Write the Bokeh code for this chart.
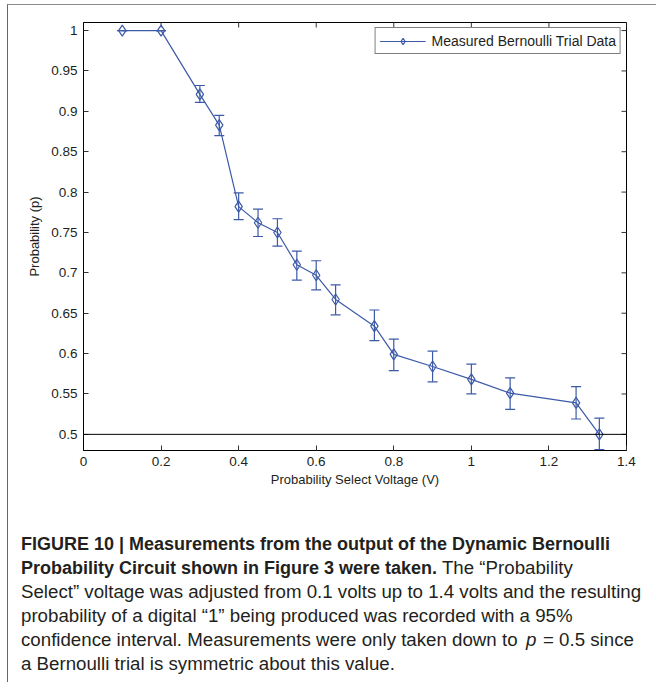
from bokeh.plotting import figure
from bokeh.layouts import column
from bokeh.models import (ColumnDataSource, Whisker, TeeHead, Span, Legend, LegendItem,
                          FixedTicker, Range1d, Div)
from bokeh.embed import file_html
from bokeh.resources import INLINE
import math

# ---------------- data ----------------
voltage = [0.1, 0.2, 0.3, 0.35, 0.4, 0.45, 0.5, 0.55, 0.6, 0.65, 0.75, 0.8, 0.9, 1.0, 1.1, 1.27, 1.33]
prob    = [1.000, 1.000, 0.921, 0.883, 0.782, 0.762, 0.750, 0.710, 0.697, 0.667, 0.634, 0.599, 0.584, 0.568, 0.551, 0.539, 0.500]
upper   = [1.000, 1.000, 0.932, 0.895, 0.799, 0.779, 0.767, 0.727, 0.715, 0.685, 0.654, 0.618, 0.603, 0.587, 0.570, 0.559, 0.520]
lower   = [1.000, 1.000, 0.911, 0.870, 0.766, 0.745, 0.733, 0.691, 0.679, 0.648, 0.616, 0.579, 0.565, 0.550, 0.531, 0.519, 0.481]

x_ticks = [0, 0.2, 0.4, 0.6, 0.8, 1.0, 1.2, 1.4]
x_tick_labels = ["0", "0.2", "0.4", "0.6", "0.8", "1", "1.2", "1.4"]
y_ticks = [0.5, 0.55, 0.6, 0.65, 0.7, 0.75, 0.8, 0.85, 0.9, 0.95, 1.0]
y_tick_labels = ["0.5", "0.55", "0.6", "0.65", "0.7", "0.75", "0.8", "0.85", "0.9", "0.95", "1"]
x_lim = (0, 1.4)
y_lim = (0.48, 1.01)
reference_p = 0.5

legend_label = "Measured Bernoulli Trial Data"
x_label = "Probability Select Voltage (V)"
y_label = "Probability (p)"

caption_1_bold = "FIGURE 10 | Measurements from the output of the Dynamic Bernoulli"
caption_2_bold = "Probability Circuit shown in Figure 3 were taken."
caption_2_reg = "The \u201cProbability"
caption_3 = "Select\u201d voltage was adjusted from 0.1 volts up to 1.4 volts and the resulting"
caption_4 = "probability of a digital \u201c1\u201d being produced was recorded with a 95%"
caption_5a = "confidence interval. Measurements were only taken down to"
caption_5p = "p"
caption_5b = "= 0.5 since"
caption_6 = "a Bernoulli trial is symmetric about this value."

# ---------------- layout constants ----------------
W, H = 656, 683
BORDER_X, BORDER_Y = 7, 4          # page rule positions
CONTENT_X, CONTENT_Y = 8, 6        # where content starts (after the rules)
A_H = 500
FL, FR, FT, FB = 83, 626, 23, 451  # plot frame edges on the page
BLUE = "#3c5aa8"
FONT = "Liberation Sans"
TXT = "#231f20"

AW = W - CONTENT_X
p = figure(width=AW, height=A_H, output_backend="svg", toolbar_location=None,
           x_range=Range1d(*x_lim), y_range=Range1d(*y_lim),
           min_border_left=FL - CONTENT_X, min_border_right=W - FR,
           min_border_top=FT - CONTENT_Y, min_border_bottom=CONTENT_Y + A_H - FB,
           x_axis_label=x_label, y_axis_label=y_label)
p.grid.visible = False
p.outline_line_color = "black"
p.outline_line_width = 1
p.background_fill_color = "white"
p.border_fill_color = "white"

def style_axis(ax, ticks, labels):
    ax.ticker = FixedTicker(ticks=ticks)
    ax.major_label_overrides = dict(zip(ticks, labels))
    ax.major_tick_in = 5
    ax.major_tick_out = 0
    ax.minor_tick_line_color = None
    ax.axis_line_color = "black"
    ax.major_tick_line_color = "#333333"
    ax.major_label_text_font = FONT
    ax.major_label_text_font_size = "13.5px"
    ax.major_label_text_color = TXT
    ax.axis_label_text_font = FONT
    ax.axis_label_text_font_size = "13px"
    ax.axis_label_text_font_style = "normal"
    ax.axis_label_text_color = TXT

style_axis(p.xaxis[0], x_ticks, x_tick_labels)
style_axis(p.yaxis[0], y_ticks, y_tick_labels)
p.xaxis[0].major_label_standoff = 6
p.xaxis[0].axis_label_standoff = 3
p.yaxis[0].major_label_standoff = 6
p.yaxis[0].axis_label_standoff = 6

# mirrored inward ticks on top and right edges (half of each dash is clipped by the frame)
p.scatter(x=x_ticks, y=[y_lim[1]] * len(x_ticks), marker="dash", size=10, angle=math.pi / 2,
          line_color="#333333", line_width=1)
p.scatter(x=[x_lim[1]] * len(y_ticks), y=y_ticks, marker="dash", size=10,
          line_color="#333333", line_width=1)

p.add_layout(Span(location=reference_p, dimension="width", line_color="black", line_width=1))

src = ColumnDataSource(dict(x=voltage, y=prob, upper=upper, lower=lower))
wh = Whisker(source=src, base="x", upper="upper", lower="lower",
             line_color=BLUE, line_width=1.2,
             upper_head=TeeHead(size=10, line_color=BLUE, line_width=1.2),
             lower_head=TeeHead(size=10, line_color=BLUE, line_width=1.2))
p.add_layout(wh)

line_r = p.line("x", "y", source=src, line_color=BLUE, line_width=1.2)
mark_r = p.scatter("x", "y", source=src, marker="diamond", size=11,
                   fill_color=None, line_color=BLUE, line_width=1.2)

leg = Legend(items=[LegendItem(label=legend_label, renderers=[line_r, mark_r])],
             location="top_right", border_line_color="black", border_line_width=1,
             label_text_font=FONT, label_text_font_size="14px", label_text_color=TXT,
             glyph_width=46, glyph_height=16, label_height=17, label_standoff=6,
             padding=4, margin=5, spacing=0, background_fill_alpha=1.0)
p.add_layout(leg)

# ---------------- caption ----------------
CAP_H = H - CONTENT_Y - A_H
LINE_H = 24
first_line_center = 545
pad_top = first_line_center - (CONTENT_Y + A_H) - LINE_H // 2
CAP_X = 21
P_X, EQ_X = 526, 543   # page x of the italic p and of "= 0.5 since"

def line_div(inner):
    return f'<div style="position:relative; height:{LINE_H}px; line-height:{LINE_H}px;">{inner}</div>'

def at(x, inner):
    return f'<span style="position:absolute; left:{x - CONTENT_X}px; top:0;">{inner}</span>'

cap_html = (
    f'<div style="font-family:\'{FONT}\'; font-size:18.7px; color:{TXT}; white-space:nowrap; '
    f'padding-top:{pad_top}px; margin:0;">'
    + line_div(at(CAP_X, f'<b style="font-size:18px">{caption_1_bold}</b>'))
    + line_div(at(CAP_X, f'<b style="font-size:18px">{caption_2_bold}</b> {caption_2_reg}'))
    + line_div(at(CAP_X, caption_3))
    + line_div(at(CAP_X, caption_4))
    + line_div(at(CAP_X, caption_5a) + at(P_X, f'<i>{caption_5p}</i>') + at(EQ_X, caption_5b))
    + line_div(at(CAP_X, caption_6))
    + '</div>'
)
cap = Div(text=cap_html, width=AW, height=CAP_H, margin=(0, 0, 0, 0),
          styles={"margin": "0", "padding": "0"})

layout = column(p, cap, spacing=0,
                styles={"border-left": "1px solid #666666",
                        "border-top": "1.5px solid #8a8a8a",
                        "margin-left": f"{BORDER_X}px",
                        "margin-top": f"{BORDER_Y}px"})
open("out.html", "w").write(file_html(layout, INLINE))
